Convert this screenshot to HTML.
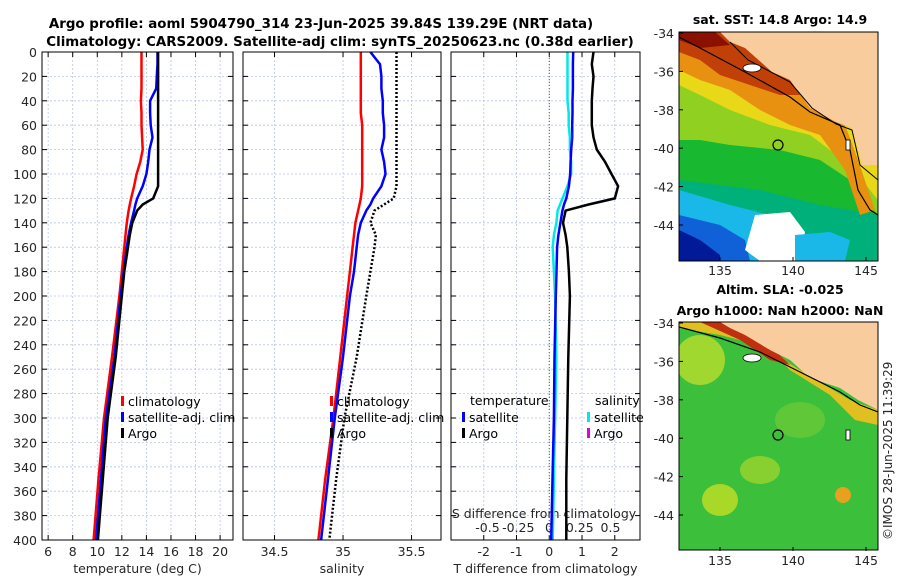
<!DOCTYPE html>
<html><head><meta charset="utf-8"><style>
body{margin:0;background:#fff;}
svg{display:block;font-family:"DejaVu Sans","Liberation Sans",sans-serif;}
</style></head><body>
<svg id="c" width="900" height="580" viewBox="0 0 900 580">
<g id="maps">
 <g>
  <clipPath id="cm1"><rect x="679" y="32" width="199" height="229"/></clipPath>
  <g clip-path="url(#cm1)">
   <rect x="679" y="32" width="199" height="229" fill="#18b830"/>
   <polygon points="679,180 760,190 820,205 878,215 878,261 679,261" fill="#00b07a"/>
   <polygon points="679,190 730,205 770,215 779,261 679,261" fill="#1ab8e8"/>
   <polygon points="679,215 720,225 745,240 750,261 679,261" fill="#1060d8"/>
   <polygon points="679,230 700,240 720,255 720,261 679,261" fill="#001a98"/>
   <polygon points="755,215 790,212 805,232 800,261 760,261 745,250" fill="#ffffff"/>
   <polygon points="795,235 830,232 850,240 845,261 795,261" fill="#1ab8e8"/>
   <polygon points="679,32 878,32 878,215 850,180 820,160 780,150 730,145 700,140 679,140" fill="#90d020"/>
   <polygon points="679,32 878,32 878,200 850,165 810,135 770,125 730,110 700,95 679,85" fill="#e8d818"/>
   <polygon points="679,32 760,32 800,95 845,125 858,160 875,210 860,215 845,170 820,135 790,125 760,110 730,90 700,80 679,70" fill="#e89010"/>
   <polygon points="679,32 740,32 770,70 790,80 800,95 780,95 750,85 720,75 700,60 679,52" fill="#c04008"/>
   <polygon points="679,32 715,32 730,45 700,48 679,40" fill="#8a1000"/>
   <polygon points="720,32 878,32 878,165 862,165 852,128 836,122 810,108 790,80 772,72 745,48 730,42" fill="#f8cc9c"/>
   <polyline points="679,37 700,48 745,72 790,97 810,112 840,125 850,150 858,190 870,210 878,215" fill="none" stroke="#000" stroke-width="1.2"/>
   <polyline points="730,42 748,60 790,82 812,108 836,124 852,130 860,165 878,180" fill="none" stroke="#000" stroke-width="1"/>
   <ellipse cx="752" cy="68" rx="9" ry="4" fill="#fff" stroke="#000" stroke-width="0.8"/>
   <circle cx="778" cy="145" r="5" fill="none" stroke="#000" stroke-width="1.2"/>
   <rect x="846" y="140" width="4" height="10" fill="#fff" stroke="#000" stroke-width="0.8"/>
  </g>
  <rect x="679" y="32" width="199" height="229" fill="none" stroke="#000" stroke-width="1"/>
 </g>
 <g>
  <clipPath id="cm2"><rect x="679" y="322" width="199" height="228"/></clipPath>
  <g clip-path="url(#cm2)">
   <rect x="679" y="322" width="199" height="228" fill="#3cbf3a"/>
   <ellipse cx="700" cy="360" rx="25" ry="25" fill="#a0d830"/>
   <ellipse cx="760" cy="470" rx="20" ry="14" fill="#88d030"/>
   <ellipse cx="720" cy="500" rx="18" ry="16" fill="#a8d828"/>
   <ellipse cx="843" cy="495" rx="8" ry="8" fill="#e8a020"/>
   <ellipse cx="800" cy="420" rx="25" ry="18" fill="#60c838"/>
   <polygon points="679,322 740,322 790,370 830,395 855,420 878,425 878,410 850,400 800,370 760,345 720,335 679,328" fill="#e0c020"/>
   <polygon points="700,322 745,322 790,365 770,360 740,340" fill="#c03010"/>
   <polygon points="720,322 878,322 878,410 858,400 840,388 810,378 790,360 770,350 745,335 730,328" fill="#f8cc9c"/>
   <polyline points="679,327 720,338 760,352 800,372 840,392 860,405 878,412" fill="none" stroke="#000" stroke-width="1.2"/>
   <ellipse cx="752" cy="358" rx="9" ry="4" fill="#fff" stroke="#000" stroke-width="0.8"/>
   <circle cx="778" cy="435" r="5" fill="none" stroke="#000" stroke-width="1.2"/>
   <rect x="846" y="430" width="4" height="10" fill="#fff" stroke="#000" stroke-width="0.8"/>
  </g>
  <rect x="679" y="322" width="199" height="228" fill="none" stroke="#000" stroke-width="1"/>
 </g>
 <g fill="#262626">
  <text x="780" y="24" text-anchor="middle" font-weight="bold" font-size="12.5" fill="#000">sat. SST: 14.8 Argo: 14.9</text>
  <text x="780" y="294" text-anchor="middle" font-weight="bold" font-size="12.5" fill="#000">Altim. SLA: -0.025</text>
  <text x="780" y="315" text-anchor="middle" font-weight="bold" font-size="12.5" fill="#000">Argo h1000: NaN h2000: NaN</text>
 </g>
 <text transform="translate(892,540) rotate(-90)" font-size="12" fill="#262626">©IMOS 28-Jun-2025 11:39:29</text>
</g>
<g id="plots"></g>
</svg>
<script>
const depths=[0,10,20,30,40,50,60,70,80,90,100,110,120,125,130,140,150,160,180,200,250,300,350,400];
const tClim=[13.6,13.6,13.6,13.6,13.55,13.6,13.6,13.65,13.7,13.5,13.2,13.0,12.75,12.65,12.55,12.4,12.3,12.2,12.0,11.8,11.2,10.55,10.1,9.7];
const tSat=[14.9,14.9,14.85,14.8,14.3,14.3,14.35,14.5,14.25,14.15,14.0,13.7,13.25,13.1,13.0,12.75,12.55,12.4,12.15,11.9,11.4,10.7,10.3,9.9];
const tArgo=[14.95,14.95,14.95,14.95,14.95,14.95,14.95,14.95,14.95,14.95,14.95,14.95,14.55,13.7,13.25,12.85,12.65,12.5,12.2,12.0,11.5,10.85,10.45,10.05];
const sClim=[35.13,35.13,35.13,35.13,35.13,35.13,35.14,35.14,35.14,35.14,35.14,35.14,35.13,35.12,35.11,35.09,35.08,35.07,35.05,35.03,34.98,34.93,34.87,34.82];
const sSat=[35.2,35.27,35.28,35.28,35.29,35.29,35.3,35.3,35.28,35.3,35.31,35.28,35.22,35.2,35.17,35.13,35.11,35.1,35.08,35.05,35.0,34.94,34.89,34.84];
const sArgo=[35.39,35.39,35.39,35.39,35.39,35.39,35.39,35.39,35.39,35.39,35.39,35.39,35.37,35.3,35.23,35.2,35.24,35.23,35.2,35.17,35.1,35.01,34.95,34.9];
const dTArgo=[1.35,1.3,1.35,1.32,1.3,1.3,1.3,1.35,1.45,1.7,1.9,2.1,2.0,1.2,0.5,0.42,0.5,0.55,0.6,0.63,0.58,0.55,0.52,0.52];
const dTSat=[0.73,0.72,0.72,0.72,0.71,0.71,0.7,0.7,0.67,0.65,0.64,0.6,0.52,0.45,0.4,0.34,0.28,0.24,0.22,0.2,0.16,0.14,0.1,0.06];
const dSSat=[0.15,0.15,0.15,0.15,0.15,0.16,0.16,0.17,0.17,0.18,0.18,0.15,0.11,0.09,0.07,0.06,0.04,0.03,0.04,0.05,0.06,0.05,0.04,0.03];
const depthTicks=[0,20,40,60,80,100,120,140,160,180,200,220,240,260,280,300,320,340,360,380,400];
const tTicks=[6,8,10,12,14,16,18,20];
const sTicks=[34.5,35,35.5];
const dTTicks=[-2,-1,0,1,2];
const dSTicks=["-0.5","-0.25","0","0.25","0.5"];

const NS='http://www.w3.org/2000/svg';
const root=document.getElementById('plots');
const Y0=52,Y1=540;
const FS=12.5;
const yS=d=>Y0+(d/400)*(Y1-Y0);
function el(tag,attrs,parent,text){const e=document.createElementNS(NS,tag);for(const k in attrs)e.setAttribute(k,attrs[k]);if(text!==undefined)e.textContent=text;(parent||root).appendChild(e);return e;}
const panels=[
 {x0:42,x1:233,v0:5.5,v1:21.05,ticks:tTicks,label:'temperature (deg C)',name:'temperature-panel'},
 {x0:243,x1:441,v0:34.27,v1:35.715,ticks:sTicks,label:'salinity',name:'salinity-panel'},
 {x0:451,x1:640,v0:-3.0,v1:2.77,ticks:dTTicks,label:'T difference from climatology',name:'difference-panel'}
];
function xs(p,v){return p.x0+(v-p.v0)/(p.v1-p.v0)*(p.x1-p.x0);}
panels.forEach((p,i)=>{
 const g=el('g',{});
 
 
 depthTicks.forEach(d=>{
  const l=el('line',{x1:p.x0,x2:p.x1,y1:yS(d),y2:yS(d),stroke:'#b8c4e8','stroke-width':0.8,'stroke-dasharray':'2,2'},g);
  
  
  el('line',{x1:p.x0,x2:p.x0+5,y1:yS(d),y2:yS(d),stroke:'#000'},g);
  el('line',{x1:p.x1,x2:p.x1-5,y1:yS(d),y2:yS(d),stroke:'#000'},g);
  if(i===0){const t=el('text',{x:p.x0-5,y:yS(d)+5,'text-anchor':'end','font-size':FS,fill:'#262626'},g,String(d));
   
   }
 });
 p.ticks.forEach(v=>{
  const x=xs(p,v);
  el('line',{x1:x,x2:x,y1:Y0,y2:Y1,stroke:'#b8c4e8','stroke-width':0.8,'stroke-dasharray':'2,2'},g);
  el('line',{x1:x,x2:x,y1:Y1,y2:Y1-5,stroke:'#000'},g);
  el('line',{x1:x,x2:x,y1:Y0,y2:Y0+5,stroke:'#000'},g);
  const t=el('text',{x:x,y:556,'text-anchor':'middle','font-size':FS,fill:'#262626'},g,String(v));
  
  
 });
 const t=el('text',{x:(p.x0+p.x1)/2,y:573,'text-anchor':'middle','font-size':FS,fill:'#262626'},g,p.label);
 
 
});
const P3=panels[2];
const dSVals=[-0.5,-0.25,0,0.25,0.5];
dSVals.forEach((v,k)=>{
 const t=el('text',{x:549+v*123,y:532,'text-anchor':'middle','font-size':FS,fill:'#262626'},root,dSTicks[k]);
 
 
});
const sdt=el('text',{x:544,y:518,'text-anchor':'middle','font-size':FS,fill:'#262626'},root,'S difference from climatology');


const zl=el('line',{x1:xs(P3,0),x2:xs(P3,0),y1:Y0,y2:Y1,stroke:'#4a6a2a','stroke-width':1,'stroke-dasharray':'1,2'});



function line(p,vals,color,w,dash,name,scale){
 const pts=vals.map((v,k)=>(scale?scale(v):xs(p,v)).toFixed(1)+','+yS(depths[k]).toFixed(1)).join(' ');
 const a={points:pts,fill:'none',stroke:color,'stroke-width':w};
 if(dash)a['stroke-dasharray']=dash;
 const l=el('polyline',a);
 
 
}
line(panels[0],tClim,'#ff0000',2.5,null,'temp-climatology-line');
line(panels[0],tSat,'#0000ff',2.5,null,'temp-satellite-line');
line(panels[0],tArgo,'#000',2.5,null,'temp-argo-line');
line(panels[1],sClim,'#ff0000',2.5,null,'sal-climatology-line');
line(panels[1],sSat,'#0000ff',2.5,null,'sal-satellite-line');
line(panels[1],sArgo,'#000',2.5,'2,2','sal-argo-line');
line(P3,dSSat,'#00e8e8',2.5,null,'sdiff-satellite-line',v=>549+v*123);
line(P3,dTSat,'#0000ff',2.5,null,'tdiff-satellite-line');
line(P3,dTArgo,'#000',2.5,null,'tdiff-argo-line');

panels.forEach(p=>{const r=el('rect',{x:p.x0,y:Y0,width:p.x1-p.x0,height:Y1-Y0,fill:'none',stroke:'#000','stroke-width':1});
 
 });

function legend(x,y,color,label){
 el('rect',{x:x,y:y-9,width:3,height:10,fill:color});
 const t=el('text',{x:x+7,y:y+1,'font-size':FS,fill:'#000'},root,label);
 
 
}
legend(121,405,'#ff0000','climatology');
legend(121,421,'#0000ff','satellite-adj. clim');
legend(121,437,'#000','Argo');
legend(330,405,'#ff0000','climatology');
legend(330,421,'#0000ff','satellite-adj. clim');
legend(330,437,'#000','Argo');
const lt=el('text',{x:470,y:405,'font-size':FS,fill:'#000'},root,'temperature');


legend(462,421,'#0000ff','satellite');
legend(462,437,'#000','Argo');
const ls=el('text',{x:595,y:405,'font-size':FS,fill:'#000'},root,'salinity');


legend(587,421,'#00e8e8','satellite');
legend(587,437,'#e000e0','Argo');

const t1=el('text',{x:321,y:28,'text-anchor':'middle','font-size':13.4,'font-weight':'bold',fill:'#000'},root,'Argo profile: aoml 5904790_314 23-Jun-2025 39.84S 139.29E (NRT data)');


const t2=el('text',{x:340,y:46,'text-anchor':'middle','font-size':13.4,'font-weight':'bold',fill:'#000'},root,'Climatology: CARS2009. Satellite-adj clim: synTS_20250623.nc (0.38d earlier)');



const mapLats=[-34,-36,-38,-40,-42,-44];
const mapLons=[135,140,145];
[[32,0],[322,290]].forEach(([top,off])=>{
 mapLats.forEach(la=>{const y=top+1+(-34-la)*19.2;
  el('line',{x1:679,x2:683,y1:y,y2:y,stroke:'#000'});
  const t=el('text',{x:674,y:y+5,'text-anchor':'end','font-size':FS,fill:'#262626'},root,String(la));
  
  });
 mapLons.forEach(lo=>{const x=720+(lo-135)*14.6;
  el('line',{x1:x,x2:x,y1:top+229,y2:top+225,stroke:'#000'});
  const t=el('text',{x:x,y:top+243,'text-anchor':'middle','font-size':FS,fill:'#262626'},root,String(lo));
  
  });
});
</script>
</body></html>
